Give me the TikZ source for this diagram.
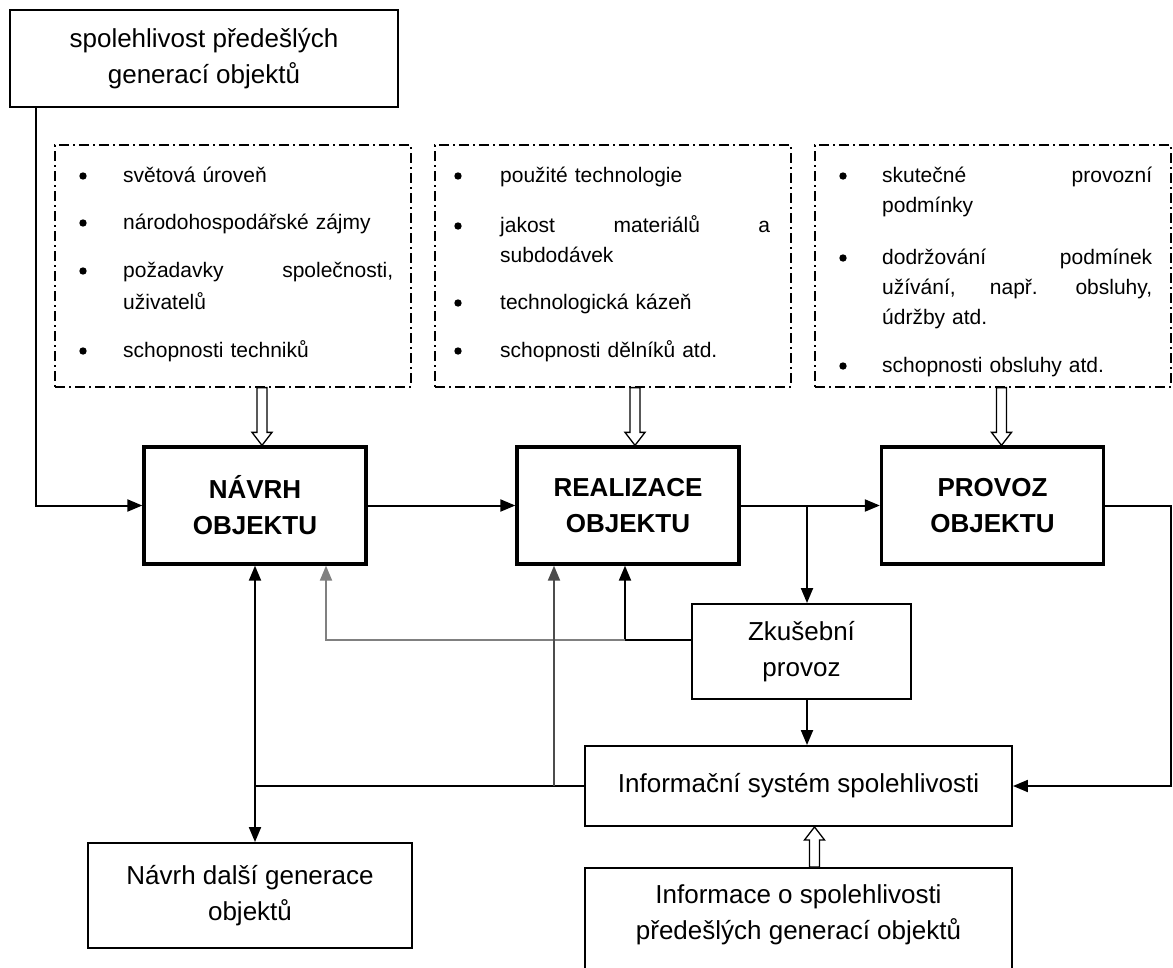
\documentclass[tikz,border=0pt]{standalone}
\usepackage{fontspec}
\setmainfont{Liberation Sans}
\usetikzlibrary{arrows.meta,calc}

\newcommand{\boxfont}{\fontsize{26pt}{36pt}\selectfont}
\newcommand{\listfont}{\fontsize{21pt}{30pt}\selectfont}
% hollow block arrow from #1 to #2 (x taken from #2)
\newcommand{\hollowarrow}[2]{%
  \draw[hollowtip] let \p1=(#1), \p2=(#2), \n1={\y2+ifthenelse(\y1>\y2,13,-13)} in
    ({\x2-5pt},\y1) -- ({\x2-5pt},{\n1*1pt}) -- ({\x2-10pt},{\n1*1pt}) -- (\x2,\y2)
    -- ({\x2+10pt},{\n1*1pt}) -- ({\x2+5pt},{\n1*1pt}) -- ({\x2+5pt},\y1) -- cycle;}

\tikzset{
  plainbox/.style={draw, line width=1.9pt, inner sep=0pt, align=center, font=\boxfont},
  mainbox/.style={draw, line width=3.3pt, inner sep=0pt, align=center, font=\boxfont\bfseries,
    minimum width=222pt, minimum height=117pt},
  listbox/.style={draw, line width=1.2pt, dash pattern=on 10pt off 4pt on 2pt off 4pt,
    minimum width=356pt, minimum height=242pt},
  listline/.style={anchor=base west, inner sep=0pt, text width=270pt, align=left, font=\listfont},
  conn/.style={line width=2pt, -{Triangle[length=15pt,width=12pt]}},
  hollowtip/.style={draw, fill=white, line width=1.3pt, line join=miter}
}

\begin{document}
\begin{tikzpicture}[x=1pt, y=-1pt]
    \useasboundingbox (0,0) rectangle (1173,967);

    % Source box top left
    \node[plainbox, minimum width=388pt, minimum height=97pt] (prev) at (204,58.5)
        {spolehlivost předešlých\\generací objektů};

    % Factor boxes
    \node[listbox] (req) at (233,266) {};
    \node[listbox] (tech) at (613,266) {};
    \node[listbox] (oper) at (993,266) {};
    \foreach \x/\y in {83/176, 83/223, 83/271, 83/351, 458/176, 458/226, 458/303, 458/351,
        843/176, 843/258, 843/366}
        \fill (\x,\y) circle (3.7);
    \foreach \x/\y/\t [count=\i] in {
        123/182/světová úroveň, 123/229/národohospodářské zájmy,
        123/277/{požadavky \hfill společnosti,}, 123/309/uživatelů, 123/357/schopnosti techniků,
        500/182/použité technologie, 500/232/jakost \hfill materiálů \hfill a,
        500/262/subdodávek, 500/309/technologická kázeň, 500/357/schopnosti dělníků atd.,
        882/182/skutečné \hfill provozní, 882/212/podmínky,
        882/264/dodržování \hfill podmínek, 882/294/{užívání, \hfill např. \hfill obsluhy,},
        882/324/údržby atd., 882/372/schopnosti obsluhy atd.}
        \node[listline] (line\i) at (\x,\y) {\t};

    % Main chain
    \node[mainbox] (navrh) at (255,505.5) {NÁVRH\\OBJEKTU};
    \node[mainbox] (realizace) at (628,505.5) {REALIZACE\\OBJEKTU};
    \node[mainbox] (provoz) at (992.5,505.5) {PROVOZ\\OBJEKTU};

    % Lower boxes
    \node[plainbox, minimum width=219pt, minimum height=95pt] (trial) at (801.5,651.5) {Zkušební\\provoz};
    \node[plainbox, minimum width=427pt, minimum height=80pt] (infosys) at (798.5,786)
        {Informační systém spolehlivosti};
    \node[plainbox, minimum width=324pt, minimum height=105pt] (next) at (250,895.5)
        {Návrh další generace\\objektů};
    \node[plainbox, anchor=north, minimum width=427pt, minimum height=125pt] (previnfo) at (798.5,867) {};
    \node[align=center, font=\boxfont, inner sep=0pt] (previnfotext) at (798.5,915)
        {Informace o spolehlivosti\\předešlých generací objektů};

    % Junctions
    \coordinate (split) at (807,505.5);
    \coordinate (tj) at (625,640);
    \coordinate (ij) at (554,786);
    \coordinate (rt) at (1171,505.5);

    % Connectors
    \draw[conn] ([xshift=27pt]prev.south west) |- (navrh.west);
    \draw[conn] (navrh.east) -- (realizace.west);
    \draw[conn] (realizace.east) -- (provoz.west);
    \draw[conn] (split) -- (split |- trial.north);
    \draw[conn] (split |- trial.south) -- (split |- infosys.north);
    \draw[conn] (trial.west |- tj) -- (tj) -- (tj |- realizace.south);
    \draw[conn, gray] (tj) -| ([xshift=71pt]navrh.south);
    \draw[conn] (infosys.west) -- (navrh.south |- infosys.west) -- (navrh.south);
    \draw[conn] (navrh.south |- infosys.west) -- (next.north -| navrh.south);
    \draw[conn, black!70] (ij) -- (ij |- realizace.south);
    \draw[conn] (provoz.east) -- (rt) |- (infosys.east);

    % Block arrows
    \hollowarrow{req.south}{[xshift=7pt]navrh.north}
    \hollowarrow{tech.south}{[xshift=7pt]realizace.north}
    \hollowarrow{oper.south}{[xshift=9pt]provoz.north}
    \hollowarrow{previnfo.north}{[xshift=16pt]infosys.south}
\end{tikzpicture}
\end{document}
